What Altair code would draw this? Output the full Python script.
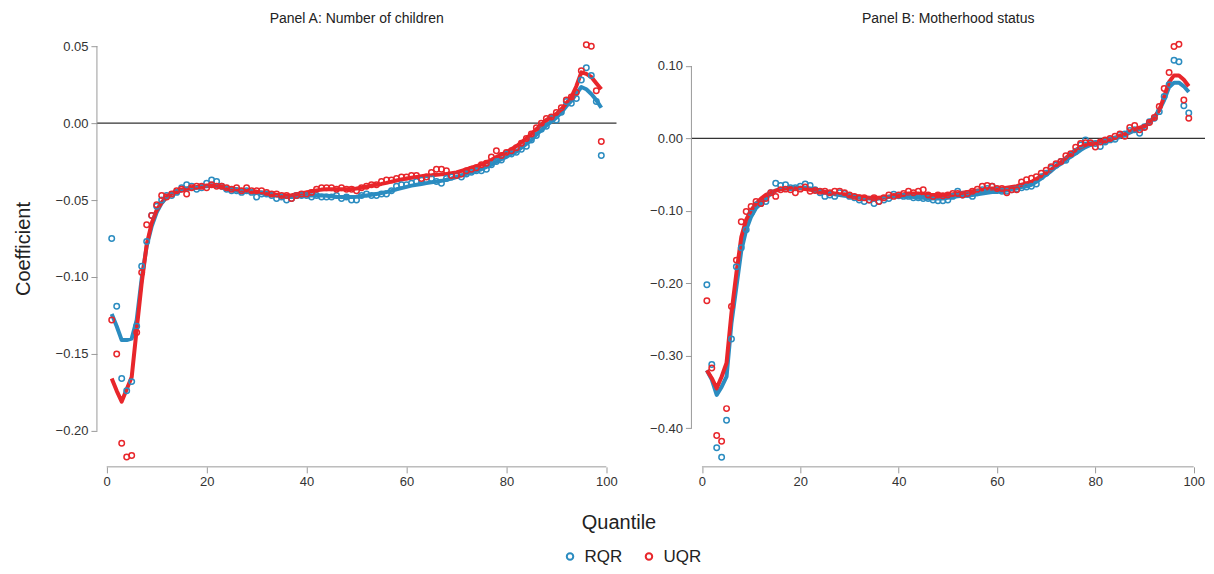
import altair as alt
import pandas as pd

quantiles = list(range(1, 100))
series_names = ["RQR", "UQR"]
series_colors = ["#2b8cc0", "#e8262b"]
x_ticks = [0, 20, 40, 60, 80, 100]
a_yticks = [-0.20, -0.15, -0.10, -0.05, 0.00, 0.05]
b_yticks = [-0.40, -0.30, -0.20, -0.10, 0.00, 0.10]
panel_titles = ["Panel A: Number of children", "Panel B: Motherhood status"]

# ---------------- Panel A: points ----------------
a_rqr_pts = [-0.075, -0.119, -0.166, -0.174, -0.168, -0.132, -0.093, -0.077, -0.060, -0.054,
             -0.050, -0.047, -0.047, -0.045, -0.042, -0.040, -0.041, -0.043, -0.042, -0.039,
             -0.037, -0.038, -0.041, -0.043, -0.044, -0.044, -0.045, -0.044, -0.045, -0.048,
             -0.046, -0.046, -0.047, -0.049, -0.048, -0.050, -0.049, -0.047, -0.047, -0.047,
             -0.048, -0.047, -0.048, -0.048, -0.048, -0.047, -0.049, -0.048, -0.050, -0.050,
             -0.047, -0.046, -0.047, -0.047, -0.046, -0.046, -0.044, -0.041, -0.040, -0.040,
             -0.039, -0.038, -0.037, -0.037, -0.036, -0.038, -0.039, -0.036, -0.035, -0.034,
             -0.035, -0.033, -0.032, -0.031, -0.031, -0.030, -0.027, -0.025, -0.024, -0.020,
             -0.020, -0.019, -0.017, -0.015, -0.011, -0.008, -0.004, -0.002, 0.003, 0.002,
             0.007, 0.014, 0.013, 0.016, 0.028, 0.036, 0.031, 0.014, -0.021]
a_uqr_pts = [-0.128, -0.150, -0.208, -0.217, -0.216, -0.136, -0.097, -0.066, -0.060, -0.053,
             -0.047, -0.048, -0.046, -0.044, -0.043, -0.046, -0.042, -0.041, -0.041, -0.042,
             -0.040, -0.041, -0.041, -0.042, -0.043, -0.042, -0.044, -0.042, -0.044, -0.044,
             -0.044, -0.045, -0.046, -0.046, -0.047, -0.047, -0.049, -0.047, -0.046, -0.046,
             -0.045, -0.043, -0.042, -0.042, -0.042, -0.043, -0.042, -0.043, -0.043, -0.044,
             -0.042, -0.041, -0.040, -0.040, -0.038, -0.037, -0.037, -0.036, -0.035, -0.035,
             -0.034, -0.034, -0.036, -0.035, -0.032, -0.030, -0.030, -0.031, -0.034, -0.034,
             -0.033, -0.031, -0.030, -0.029, -0.027, -0.026, -0.022, -0.018, -0.021, -0.019,
             -0.018, -0.016, -0.013, -0.010, -0.007, -0.003, 0.000, 0.003, 0.004, 0.007,
             0.010, 0.015, 0.017, 0.020, 0.034, 0.051, 0.050, 0.021, -0.012]
# ---------------- Panel A: fitted lines ----------------
a_rqr_fit = [-0.124, -0.132, -0.141, -0.141, -0.140, -0.128, -0.101, -0.080, -0.067, -0.058,
             -0.052, -0.048, -0.046, -0.045, -0.0435, -0.043, -0.0424, -0.042, -0.0413, -0.041,
             -0.0407, -0.041, -0.0418, -0.043, -0.0435, -0.044, -0.0444, -0.0446, -0.045, -0.0453,
             -0.0456, -0.046, -0.0465, -0.047, -0.0475, -0.048, -0.048, -0.0478, -0.0472, -0.047,
             -0.047, -0.047, -0.047, -0.0472, -0.0475, -0.0478, -0.048, -0.048, -0.048, -0.0478,
             -0.0474, -0.047, -0.0466, -0.046, -0.0455, -0.0448, -0.044, -0.043, -0.0422, -0.0414,
             -0.0406, -0.040, -0.0395, -0.039, -0.0385, -0.038, -0.0375, -0.0368, -0.036, -0.035,
             -0.034, -0.033, -0.032, -0.031, -0.030, -0.0285, -0.027, -0.025, -0.0235, -0.022,
             -0.020, -0.0185, -0.016, -0.0135, -0.011, -0.0075, -0.0045, -0.0015, 0.001, 0.0035,
             0.007, 0.011, 0.0145, 0.019, 0.0235, 0.022, 0.019, 0.015, 0.010]
a_uqr_fit = [-0.166, -0.174, -0.181, -0.173, -0.165, -0.134, -0.104, -0.079, -0.065, -0.0565,
             -0.0515, -0.048, -0.0457, -0.044, -0.0432, -0.0425, -0.042, -0.0415, -0.041, -0.0405,
             -0.0403, -0.0405, -0.041, -0.042, -0.0425, -0.043, -0.0435, -0.044, -0.0442, -0.0445,
             -0.045, -0.0455, -0.046, -0.0465, -0.047, -0.047, -0.0468, -0.0462, -0.0455, -0.045,
             -0.0443, -0.0437, -0.0432, -0.043, -0.043, -0.043, -0.043, -0.043, -0.0428, -0.0425,
             -0.042, -0.0413, -0.0405, -0.040, -0.0395, -0.0388, -0.038, -0.0373, -0.0366, -0.036,
             -0.0355, -0.035, -0.0345, -0.034, -0.0338, -0.0335, -0.0333, -0.033, -0.0325, -0.032,
             -0.031, -0.030, -0.029, -0.028, -0.027, -0.0255, -0.024, -0.022, -0.0205, -0.019,
             -0.017, -0.015, -0.0125, -0.010, -0.007, -0.004, -0.001, 0.002, 0.004, 0.006,
             0.009, 0.013, 0.017, 0.024, 0.033, 0.032, 0.030, 0.026, 0.022]

# ---------------- Panel B: points ----------------
b_rqr_pts = [-0.202, -0.312, -0.427, -0.440, -0.389, -0.277, -0.177, -0.151, -0.126, -0.103,
             -0.092, -0.090, -0.087, -0.075, -0.062, -0.065, -0.064, -0.068, -0.068, -0.066,
             -0.063, -0.065, -0.071, -0.075, -0.080, -0.078, -0.080, -0.075, -0.076, -0.080,
             -0.082, -0.085, -0.087, -0.085, -0.090, -0.087, -0.085, -0.083, -0.077, -0.079,
             -0.080, -0.080, -0.082, -0.082, -0.083, -0.083, -0.085, -0.086, -0.086, -0.085,
             -0.080, -0.073, -0.078, -0.077, -0.080, -0.075, -0.071, -0.069, -0.066, -0.071,
             -0.073, -0.073, -0.071, -0.070, -0.068, -0.067, -0.066, -0.063, -0.053, -0.048,
             -0.041, -0.037, -0.032, -0.030, -0.023, -0.018, -0.009, -0.002, -0.007, -0.007,
             -0.011, -0.005, -0.002, -0.001, 0.005, 0.006, 0.011, 0.012, 0.007, 0.016,
             0.023, 0.028, 0.037, 0.058, 0.074, 0.108, 0.106, 0.045, 0.035]
b_uqr_pts = [-0.224, -0.317, -0.410, -0.418, -0.373, -0.232, -0.168, -0.115, -0.101, -0.094,
             -0.087, -0.090, -0.083, -0.075, -0.080, -0.071, -0.070, -0.071, -0.075, -0.070,
             -0.067, -0.073, -0.072, -0.073, -0.073, -0.075, -0.073, -0.073, -0.075, -0.078,
             -0.080, -0.082, -0.082, -0.085, -0.082, -0.087, -0.082, -0.078, -0.080, -0.078,
             -0.076, -0.073, -0.075, -0.073, -0.071, -0.078, -0.080, -0.078, -0.079, -0.078,
             -0.076, -0.076, -0.078, -0.076, -0.073, -0.070, -0.066, -0.065, -0.066, -0.069,
             -0.069, -0.075, -0.071, -0.071, -0.060, -0.057, -0.055, -0.053, -0.048, -0.044,
             -0.039, -0.035, -0.032, -0.024, -0.021, -0.012, -0.007, -0.006, -0.006, -0.012,
             -0.005, -0.002, 0.000, 0.003, 0.006, 0.003, 0.015, 0.018, 0.012, 0.015,
             0.022, 0.029, 0.044, 0.069, 0.091, 0.127, 0.130, 0.053, 0.028]
# ---------------- Panel B: fitted lines ----------------
b_rqr_fit = [-0.320, -0.333, -0.354, -0.343, -0.329, -0.255, -0.205, -0.155, -0.126, -0.108,
             -0.096, -0.090, -0.083, -0.076, -0.072, -0.070, -0.069, -0.068, -0.068, -0.068,
             -0.068, -0.069, -0.071, -0.072, -0.074, -0.075, -0.077, -0.078, -0.079, -0.080,
             -0.081, -0.082, -0.083, -0.083, -0.084, -0.083, -0.082, -0.081, -0.080, -0.080,
             -0.080, -0.080, -0.081, -0.082, -0.082, -0.083, -0.083, -0.083, -0.083, -0.082,
             -0.081, -0.080, -0.079, -0.079, -0.078, -0.077, -0.076, -0.075, -0.074, -0.074,
             -0.073, -0.072, -0.070, -0.069, -0.067, -0.066, -0.064, -0.060, -0.055, -0.050,
             -0.045, -0.039, -0.035, -0.030, -0.025, -0.021, -0.016, -0.012, -0.009, -0.007,
             -0.006, -0.005, -0.002, 0.000, 0.002, 0.005, 0.008, 0.011, 0.014, 0.016,
             0.022, 0.029, 0.039, 0.053, 0.071, 0.077, 0.077, 0.072, 0.064]
b_uqr_fit = [-0.320, -0.331, -0.345, -0.329, -0.310, -0.241, -0.186, -0.136, -0.112, -0.099,
             -0.090, -0.083, -0.078, -0.075, -0.072, -0.070, -0.069, -0.069, -0.069, -0.069,
             -0.070, -0.071, -0.072, -0.073, -0.074, -0.075, -0.076, -0.077, -0.077, -0.078,
             -0.079, -0.080, -0.081, -0.082, -0.082, -0.082, -0.081, -0.080, -0.079, -0.078,
             -0.077, -0.076, -0.076, -0.076, -0.077, -0.078, -0.078, -0.078, -0.078, -0.078,
             -0.077, -0.076, -0.075, -0.074, -0.073, -0.072, -0.071, -0.070, -0.069, -0.069,
             -0.069, -0.068, -0.067, -0.066, -0.064, -0.062, -0.060, -0.056, -0.052, -0.048,
             -0.043, -0.038, -0.033, -0.027, -0.021, -0.016, -0.012, -0.009, -0.007, -0.006,
             -0.004, -0.002, 0.000, 0.001, 0.004, 0.006, 0.009, 0.012, 0.015, 0.017,
             0.022, 0.029, 0.039, 0.058, 0.078, 0.087, 0.087, 0.081, 0.072]

FONT = "Liberation Sans"
AXIS_GREY = "#9a9a9a"
H = 437

color_scale = alt.Scale(domain=series_names, range=series_colors)
legend = alt.Legend(
    orient="none", legendX=465, legendY=518, direction="horizontal", title=None,
    symbolType="circle", symbolSize=42, symbolStrokeWidth=2, symbolFillColor="white",
    labelFont=FONT, labelFontSize=17, labelColor="#222", labelOffset=6, columnPadding=18,
)


def long_df(r_vals, u_vals):
    return pd.DataFrame({
        "Quantile": quantiles + quantiles,
        "Series": [series_names[0]] * len(quantiles) + [series_names[1]] * len(quantiles),
        "Coefficient": r_vals + u_vals,
    })


def panel(title, pts_r, pts_u, fit_r, fit_u, yticks, ydomain, xdomain, width, ytitle, xtitle):
    pts = long_df(pts_r, pts_u)
    fit = long_df(fit_r, fit_u)
    one = pd.DataFrame({"k": [0]})

    xs = alt.Scale(domain=xdomain, nice=False, zero=False)
    ys = alt.Scale(domain=ydomain, nice=False, zero=False)
    if xtitle:
        xa = alt.Axis(values=x_ticks, title=xtitle, titleX=522, titleY=62,
                      titleBaseline="alphabetic", titleFontSize=20)
    else:
        xa = alt.Axis(values=x_ticks, title=None)
    if ytitle:
        ya = alt.Axis(values=yticks, format=".2f", title=ytitle, titleFontSize=20, titlePadding=22)
    else:
        ya = alt.Axis(values=yticks, format=".2f", title=None)

    zero = alt.Chart(one).mark_rule(color="#333333", strokeWidth=1.3).encode(
        y=alt.YDatum(datum=0, scale=ys, axis=ya)
    )
    yline = alt.Chart(one).mark_rule(color=AXIS_GREY, strokeWidth=1).encode(
        x=alt.value(0),
        y=alt.YDatum(datum=yticks[0], scale=ys, axis=ya),
        y2=alt.datum(yticks[-1]),
    )
    xline = alt.Chart(one).mark_rule(color=AXIS_GREY, strokeWidth=1).encode(
        y=alt.value(H),
        x=alt.XDatum(datum=x_ticks[0], scale=xs, axis=xa),
        x2=alt.datum(x_ticks[-1]),
    )
    lines = alt.Chart(fit).mark_line(strokeWidth=4, strokeJoin="round").encode(
        x=alt.X("Quantile:Q", scale=xs, axis=xa),
        y=alt.Y("Coefficient:Q", scale=ys, axis=ya),
        color=alt.Color("Series:N", scale=color_scale, legend=legend),
    )
    points = alt.Chart(pts).mark_point(filled=False, size=30, strokeWidth=1.5, opacity=1).encode(
        x=alt.X("Quantile:Q", scale=xs, axis=xa),
        y=alt.Y("Coefficient:Q", scale=ys, axis=ya),
        color=alt.Color("Series:N", scale=color_scale, legend=legend),
    )
    return alt.layer(zero, yline, xline, lines, points).properties(
        width=width, height=H, title=alt.TitleParams(title)
    )


pa = panel(panel_titles[0], a_rqr_pts, a_uqr_pts, a_rqr_fit, a_uqr_fit,
           a_yticks, [-0.2234, 0.0604], [-1.96, 102.04], 520, "Coefficient", "Quantile")
pb = panel(panel_titles[1], b_rqr_pts, b_uqr_pts, b_rqr_fit, b_uqr_fit,
           b_yticks, [-0.4534, 0.1494], [-2.14, 102.3], 514, None, None)

chart = (
    alt.hconcat(pa, pb, spacing=75, bounds="flush")
    .properties(padding={"left": 5, "top": 4, "right": 0, "bottom": 0})
    .configure_view(stroke=None)
    .configure_axis(
        domain=False, grid=False, tickColor=AXIS_GREY, tickSize=6, tickWidth=1,
        labelFont=FONT, labelFontSize=13, labelColor="#333", labelPadding=3,
        titleFont=FONT, titleFontWeight="normal", titleColor="#222",
    )
    .configure_title(font=FONT, fontSize=14, fontWeight="normal", color="#222",
                     anchor="middle", offset=0, baseline="alphabetic")
)

chart.save("out.html", embed_options={"renderer": "svg", "actions": False})
